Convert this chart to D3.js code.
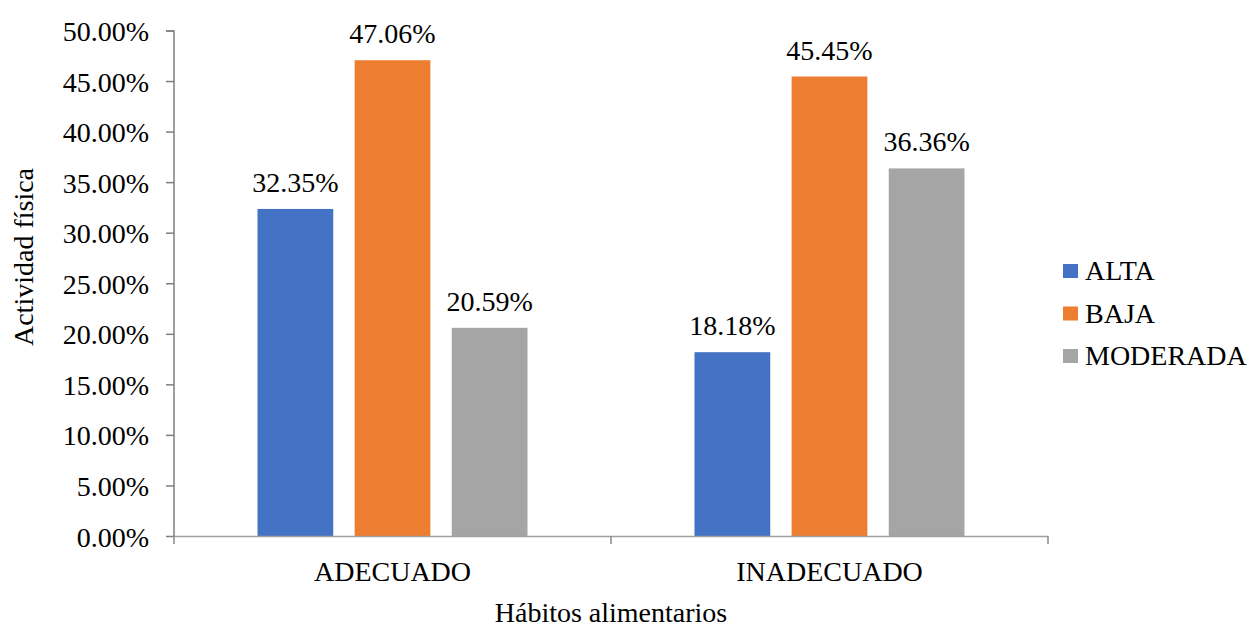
<!DOCTYPE html>
<html>
<head>
<meta charset="utf-8">
<script src="https://cdn.jsdelivr.net/npm/d3@7"></script>
<style>
  body { margin: 0; background: #fff; }
  svg text { font-family: "Liberation Serif", "Times New Roman", serif !important; fill: #000; }
</style>
</head>
<body>
<div id="chart"></div>
<script>
// data
const categories = ['ADECUADO', 'INADECUADO'];
const series = ['ALTA', 'BAJA', 'MODERADA'];
const alta = [32.35, 18.18];
const baja = [47.06, 45.45];
const moderada = [20.59, 36.36];
const yTicks = [0, 5, 10, 15, 20, 25, 30, 35, 40, 45, 50];
const colors = ['#4472C4', '#ED7D31', '#A5A5A5'];

const values = [alta, baja, moderada];
const rows = categories.map((c, i) => ({
  cat: c,
  vals: series.map((s, j) => ({ key: s, value: values[j][i], color: colors[j] }))
}));

const W = 1257, H = 628;
const svg = d3.select('#chart').append('svg')
  .attr('width', W)
  .attr('height', H);

const margin = { top: 30.5, right: 209, bottom: 92, left: 174 };
const width = W - margin.left - margin.right;
const height = H - margin.top - margin.bottom;

const x0 = d3.scaleBand()
  .range([0, width])
  .domain(categories)
  .padding(0);

const x1 = d3.scaleBand()
  .domain(series)
  .range([83.5, x0.bandwidth() - 83.5])
  .paddingInner(0.22);

const y = d3.scaleLinear()
  .range([height, 0])
  .domain([0, 50]);

const g = svg.append('g')
  .attr('transform', `translate(${margin.left},${margin.top})`);

// bars
const groups = g.selectAll('.grp')
  .data(rows)
  .enter().append('g')
  .attr('class', 'grp')
  .attr('transform', d => `translate(${x0(d.cat)},0)`);

groups.selectAll('rect')
  .data(d => d.vals)
  .enter().append('rect')
  .attr('x', d => x1(d.key))
  .attr('y', d => y(d.value))
  .attr('width', x1.bandwidth())
  .attr('height', d => height - y(d.value))
  .attr('fill', d => d.color);

groups.selectAll('.lbl')
  .data(d => d.vals)
  .enter().append('text')
  .attr('class', 'lbl')
  .attr('x', d => x1(d.key) + x1.bandwidth() / 2)
  .attr('y', d => y(d.value) - 17)
  .attr('text-anchor', 'middle')
  .style('font-size', '28px')
  .text(d => d.value.toFixed(2) + '%');

// y axis
const yAxis = g.append('g')
  .call(d3.axisLeft(y).tickValues(yTicks).tickSize(8).tickPadding(17)
    .tickFormat(d => d.toFixed(2) + '%'));
yAxis.attr('font-family', null);
yAxis.select('.domain').attr('stroke', '#7f7f7f').attr('stroke-width', 1.5)
  .attr('d', `M-8,0.5H0V${height}`);
yAxis.selectAll('.tick line').attr('stroke', '#7f7f7f').attr('stroke-width', 1.5);
yAxis.selectAll('.tick text').style('font-size', '28px').attr('dy', '0.36em');

// x axis
const xAxis = g.append('g')
  .attr('transform', `translate(0,${height})`);
xAxis.append('line')
  .attr('x1', 0).attr('x2', width)
  .attr('y1', 0.5).attr('y2', 0.5)
  .attr('stroke', '#a0a0a0').attr('stroke-width', 1.5);
xAxis.selectAll('.xt')
  .data([0, ...categories.map(c => x0(c) + x0.bandwidth())])
  .enter().append('line')
  .attr('x1', d => d).attr('x2', d => d)
  .attr('y1', 0).attr('y2', 8)
  .attr('stroke', '#8a8a8a').attr('stroke-width', 1.5);
xAxis.selectAll('.xl')
  .data(categories)
  .enter().append('text')
  .attr('x', d => x0(d) + x0.bandwidth() / 2)
  .attr('y', 45)
  .attr('text-anchor', 'middle')
  .style('font-size', '28px')
  .text(d => d);

// axis titles
svg.append('text')
  .attr('x', margin.left + width / 2)
  .attr('y', 622)
  .attr('text-anchor', 'middle')
  .style('font-size', '28px')
  .text('Hábitos alimentarios');

svg.append('text')
  .attr('transform', 'translate(33,257) rotate(-90)')
  .attr('text-anchor', 'middle')
  .style('font-size', '28px')
  .text('Actividad física');

// legend
const legend = svg.append('g')
  .attr('transform', 'translate(1063,264)');
const li = legend.selectAll('g')
  .data(series)
  .enter().append('g')
  .attr('transform', (d, i) => `translate(0,${i * 42.5})`);
li.append('rect')
  .attr('width', 15).attr('height', 14)
  .attr('fill', (d, i) => colors[i]);
li.append('text')
  .attr('x', 22)
  .attr('y', 16)
  .style('font-size', '28px')
  .text(d => d);
</script>
</body>
</html>
